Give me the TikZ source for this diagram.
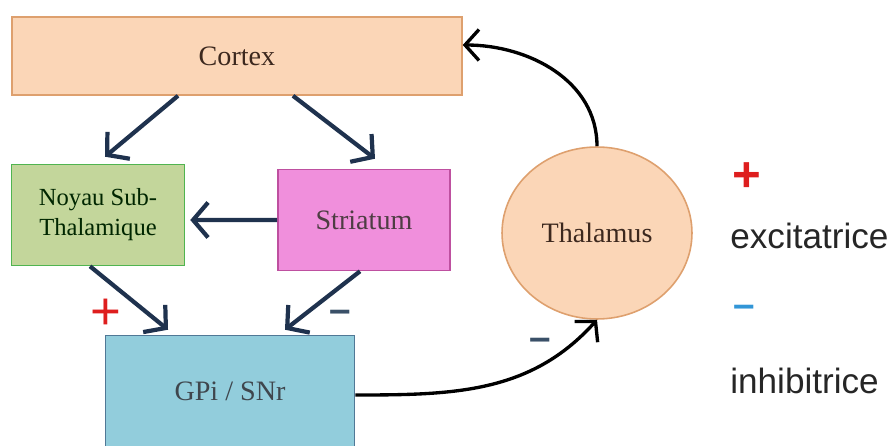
\documentclass[tikz,border=0pt]{standalone}
\usepackage{fontspec}
\setmainfont{Liberation Serif}
\newfontfamily\legende{Liberation Sans}
\usetikzlibrary{arrows.meta,positioning,shapes.geometric}
\definecolor{peche}{RGB}{251,214,183}
\definecolor{pechefonce}{RGB}{222,160,110}
\definecolor{vertpale}{RGB}{195,214,155}
\definecolor{vertbord}{RGB}{80,180,80}
\definecolor{rose}{RGB}{240,143,220}
\definecolor{rosefonce}{RGB}{190,80,160}
\definecolor{bleuciel}{RGB}{146,205,220}
\definecolor{bleubord}{RGB}{80,120,150}
\definecolor{bleunuit}{RGB}{31,50,78}
\definecolor{ardoise}{RGB}{58,80,104}
\definecolor{bleuvif}{RGB}{50,150,215}
\definecolor{rouge}{RGB}{222,30,30}
\definecolor{brunfonce}{RGB}{60,40,30}
\tikzset{
  bloque/.style={
    draw,
    line width=0.9pt,
    align=center,
    inner sep=0pt,
    font=\fontsize{16}{19}\selectfont
  },
  rond/.style={
    ellipse,
    draw=pechefonce,
    fill=peche,
    line width=0.9pt,
    inner sep=0pt,
    font=\fontsize{16}{19}\selectfont
  },
  fleche/.style={
    -{Straight Barb[length=3mm,width=7mm]},
    line width=2.4pt,
    bleunuit
  },
  flechenoire/.style={
    -{Straight Barb[length=2.8mm,width=6.2mm]},
    line width=1.9pt,
    black
  },
  signe/.style={
    font=\legende\bfseries\fontsize{28}{28}\selectfont,
    inner sep=0pt
  },
  tiret/.style={
    font=\legende\bfseries\fontsize{22}{22}\selectfont,
    inner sep=0pt
  },
  mot/.style={
    font=\legende\fontsize{20}{24}\selectfont,
    text=black!85,
    inner sep=0pt,
    anchor=west
  }
}
\begin{document}
\begin{tikzpicture}[x=0.02cm,y=-0.02cm]
\useasboundingbox (0,0) rectangle (893,446);
% blocs
\node[bloque, fill=peche, draw=pechefonce, text=brunfonce, minimum width=9cm, minimum height=1.56cm] (cortex) at (237,56) {Cortex};
\node[bloque, fill=vertpale, draw=vertbord, text=black!85!green, minimum width=3.46cm, minimum height=2.02cm, font=\fontsize{14}{17}\selectfont] (noyau) at (98,215) {Noyau Sub-\\Thalamique};
\node[bloque, fill=rose, draw=rosefonce, text=black!80!magenta, minimum width=3.44cm, minimum height=2.02cm] (striatum) at (364,220) {Striatum};
\node[bloque, fill=bleuciel, draw=bleubord, text=black!80!cyan, minimum width=4.98cm, minimum height=2.22cm] (gpi) at (230,391) {GPi / SNr};
\node[rond, text=brunfonce, minimum width=3.8cm, minimum height=3.44cm] (thal) at (597,233) {Thalamus};
% fleches
\draw[fleche] ([xshift=-1.18cm]cortex.south) -- ([xshift=0.14cm,yshift=0.14cm]noyau.north);
\draw[fleche] ([xshift=1.12cm]cortex.south) -- ([xshift=0.22cm,yshift=0.2cm]striatum.north);
\draw[fleche] (striatum.west) -- ([xshift=0.1cm,yshift=-0.1cm]noyau.east);
\draw[fleche] ([xshift=-0.16cm]noyau.south) -- ([xshift=-1.24cm,yshift=0.1cm]gpi.north);
\draw[fleche] ([xshift=-0.08cm]striatum.south) -- ([xshift=1.1cm,yshift=0.1cm]gpi.north);
\draw[flechenoire] ([yshift=-0.08cm]gpi.east) to[out=0,in=228] (thal.south);
\draw[flechenoire] (thal.north) to[out=90,in=0] ([yshift=0.22cm]cortex.east);
% signes
\node[signe, rouge, font=\legende\fontsize{30}{30}\selectfont] (plusnst) at (106,314) {+};
\node[tiret, ardoise] (moinsstr) at (340,316) {–};
\node[tiret, ardoise] (moinsgpi) at (540,344) {–};
% legende
\node[signe, rouge] (plus) at (747,177) {+};
\node[mot] (excit) at (730,236) {excitatrice};
\node[tiret, bleuvif] (moins) at (744,311) {–};
\node[mot] (inhib) at (730,381) {inhibitrice};
\end{tikzpicture}
\end{document}
